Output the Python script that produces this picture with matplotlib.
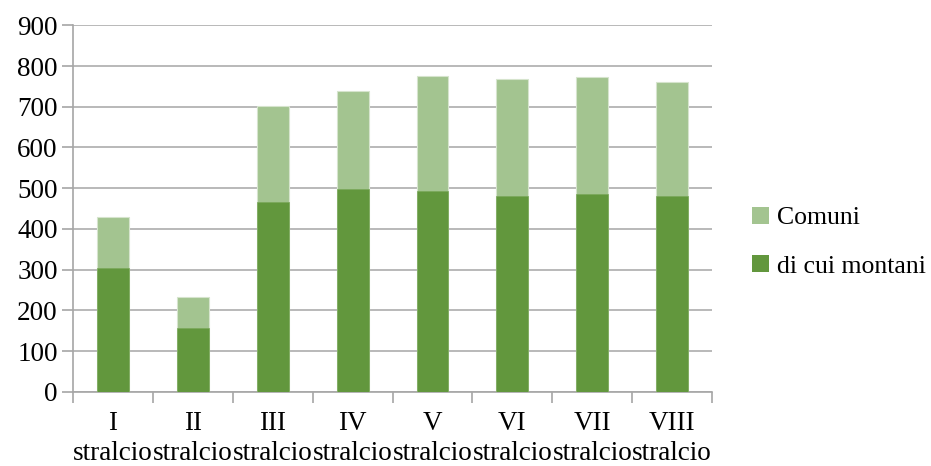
import numpy as np
import matplotlib
matplotlib.use("Agg")
import matplotlib.pyplot as plt
from matplotlib.patches import Patch

# data
stralci = ["I", "II", "III", "IV", "V", "VI", "VII", "VIII"]
comuni = [430, 232, 702, 738, 775, 769, 772, 760]
montani = [305, 156, 466, 498, 492, 480, 486, 480]

light = "#a3c490"
dark = "#62973d"

plt.rcParams["font.family"] = ["Liberation Serif", "DejaVu Serif"]

fig = plt.figure(figsize=(9.31, 4.66), dpi=100)
ax = fig.add_axes([0.0784, 0.1594, 0.6865, 0.7863])

x = np.arange(len(stralci))
ax.bar(x, comuni, width=0.4, color=light, edgecolor="#d6e4cd", linewidth=0.8, zorder=3)
ax.bar(x, montani, width=0.4, color=dark, edgecolor="#7aa85a", linewidth=0.5, zorder=4)

ax.set_xlim(-0.5, len(stralci) - 0.5)
ax.set_ylim(0, 900)
ax.set_yticks(np.arange(0, 901, 100))
ax.yaxis.grid(True, color="#b3b3b3", linewidth=1.3, zorder=0)
ax.set_axisbelow(True)

for s in ["top", "right"]:
    ax.spines[s].set_visible(False)
ax.spines["left"].set_color("#a6a6a6")
ax.spines["bottom"].set_color("#a6a6a6")
ax.spines["left"].set_linewidth(1.2)
ax.spines["bottom"].set_linewidth(1.2)

ax.set_xticks(x)
ax.set_xticklabels([s + "\nstralcio" for s in stralci], fontsize=19.5, linespacing=1.28)
ax.set_xticks(np.arange(-0.5, len(stralci), 1), minor=True)
ax.tick_params(axis="x", which="major", length=0, pad=14)
ax.tick_params(axis="x", which="minor", length=8, color="#a6a6a6", width=1.2)
ax.tick_params(axis="y", length=8, color="#a6a6a6", width=1.2, labelsize=19.5, pad=3)

handles = [Patch(facecolor=light, label="Comuni"),
           Patch(facecolor=dark, label="di cui montani")]
fig.legend(handles=handles, loc="center left", bbox_to_anchor=(0.808, 0.48),
           frameon=False, fontsize=18.5, handlelength=0.65, handleheight=0.65,
           handletextpad=0.3, labelspacing=1.0, borderaxespad=0, borderpad=0)

fig.savefig("out.png", dpi=100)
